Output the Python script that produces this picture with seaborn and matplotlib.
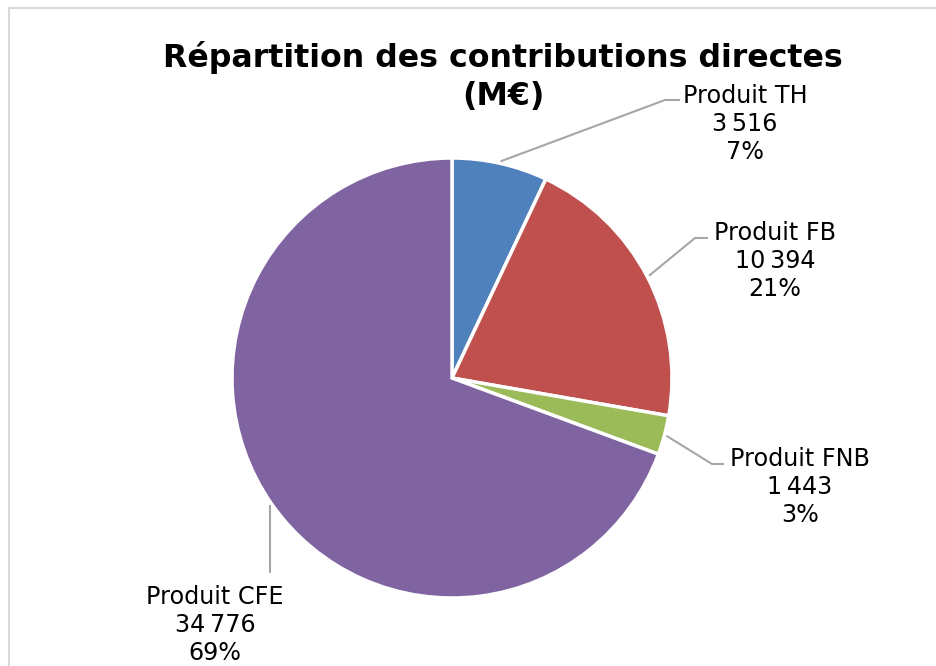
import numpy as np
import matplotlib
matplotlib.use("Agg")
import matplotlib.pyplot as plt
import seaborn as sns
from matplotlib.patches import Rectangle

# Données (M€)
categories = ["Produit TH", "Produit FB", "Produit FNB", "Produit CFE"]
values = [3516, 10394, 1443, 34776]
colors = ["#4F81BD", "#C0504D", "#9BBB59", "#8064A2"]
title_lines = ["Répartition des contributions directes", "(M€)"]

sns.set_theme(style="white")
plt.rcParams["font.family"] = ["DejaVu Sans"]

W, H = 936, 666
fig = plt.figure(figsize=(W / 100, H / 100), dpi=100)
fig.patch.set_facecolor("white")
ax = fig.add_axes([0, 0, 1, 1])

# cadre gris du graphique
fig.patches.append(Rectangle((9, -20), 960, H - 8 + 20, transform=None,
                             fill=False, edgecolor="#D9D9D9", linewidth=1.5))

cx, cy, r = 452, H - 378, 220
wedges, _ = ax.pie(values, colors=colors, startangle=90, counterclock=False,
                   center=(cx, cy), radius=r,
                   wedgeprops=dict(edgecolor="white", linewidth=2.5))
ax.set_xlim(0, W)
ax.set_ylim(0, H)
ax.set_aspect("auto")
ax.axis("off")

total = sum(values)

def fmt(v):
    return f"{v:,}".replace(",", "\u202f")

# positions des étiquettes (pixels, origine en haut)
elbows = [(665, 100), (695, 238), (712, 464), (None, 573)]
ends = [(680, 100), (708, 238), (724, 464), (None, 573)]
text_pos = [(745, 124), (775, 261), (800, 487), (215, 625)]

for w, v, lab, el, en, tp in zip(wedges, values, categories, elbows, ends, text_pos):
    ang = np.deg2rad((w.theta1 + w.theta2) / 2)
    x0 = cx + (r + 2) * np.cos(ang)
    y0 = cy + (r + 2) * np.sin(ang)
    ex = el[0] if el[0] is not None else x0
    nx = en[0] if en[0] is not None else x0
    ax.plot([x0, ex, nx], [y0, H - el[1], H - en[1]],
            color="#A6A6A6", linewidth=1.5, solid_capstyle="butt")
    pct = round(v / total * 100)
    ax.text(tp[0], H - tp[1], f"{lab}\n{fmt(v)}\n{pct}%", ha="center",
            va="center", fontsize=17.2, color="black", linespacing=1.2)

for line, py in zip(title_lines, [57, 97]):
    fig.text(503 / W, 1 - py / H, line, ha="center", va="center",
             fontsize=22.8, fontweight="bold", color="black")

fig.savefig("out.png", dpi=100)
